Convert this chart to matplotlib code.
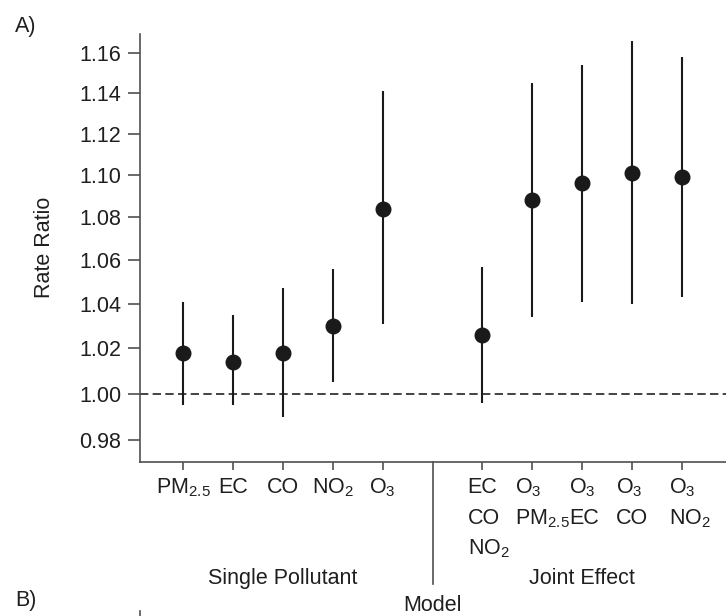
import numpy as np
import matplotlib
matplotlib.use("Agg")
import matplotlib.pyplot as plt
from matplotlib.lines import Line2D
from matplotlib.ticker import NullLocator

plt.rcParams['font.family'] = ['Liberation Sans', 'DejaVu Sans']
plt.rcParams['mathtext.default'] = 'regular'

# rate ratios with 95% CI, single-pollutant models then joint-effect models
single_labels = ['PM$_{2.5}$', 'EC', 'CO', 'NO$_2$', 'O$_3$']
joint_labels = [['EC', 'CO', 'NO$_2$'],
                ['O$_3$', 'PM$_{2.5}$'],
                ['O$_3$', 'EC'],
                ['O$_3$', 'CO'],
                ['O$_3$', 'NO$_2$']]
rr = [1.018, 1.014, 1.018, 1.030, 1.084, 1.026, 1.088, 1.096, 1.101, 1.099]
lower = [0.995, 0.995, 0.990, 1.005, 1.031, 0.996, 1.034, 1.041, 1.040, 1.043]
upper = [1.041, 1.035, 1.047, 1.056, 1.141, 1.057, 1.145, 1.154, 1.166, 1.158]
yticks = [0.98, 1.00, 1.02, 1.04, 1.06, 1.08, 1.10, 1.12, 1.14, 1.16]

W, H = 726, 616
FS = 15.5
TXT = '#1f1f1f'
AX_C = '#505050'

# axes box in pixels (left, top, right, bottom)
L, T, R, B = 140, 34, 726, 462

fig = plt.figure(figsize=(W / 100, H / 100), dpi=100)
ax = fig.add_axes([L / W, 1 - B / H, (R - L) / W, (B - T) / H])

xs = list(range(1, 6)) + list(range(7, 12))
rr_a = np.array(rr)
yerr = [rr_a - np.array(lower), np.array(upper) - rr_a]
ax.errorbar(xs, rr, yerr=yerr, fmt='o', color='#1a1a1a', ms=10.5,
            elinewidth=1.5, capsize=0, zorder=3)
ax.axhline(1.0, color='#222222', lw=1.2, ls=(0, (5, 2.6)), zorder=2)

ax.set_yscale('log')
ax.set_ylim(0.9707, 1.1698)
ax.set_xlim(0.14, 11.88)
ax.set_yticks(yticks)
ax.set_yticklabels(['%.2f' % t for t in yticks], fontsize=FS, color=TXT)
ax.yaxis.set_minor_locator(NullLocator())
ax.set_xticks(xs)
ax.set_xticklabels([])

for s in ['top', 'right']:
    ax.spines[s].set_visible(False)
for s in ['left', 'bottom']:
    ax.spines[s].set_color(AX_C)
    ax.spines[s].set_linewidth(1.2)
ax.tick_params(axis='y', length=8.5, width=1.2, color=AX_C, pad=5)
ax.tick_params(axis='x', length=5.5, width=1.2, color=AX_C)

xt = ax.get_xaxis_transform()


def below(px):
    # pixel row in the figure -> axes y coordinate
    return -(px - B) / (B - T)


row_base = [493, 524, 554]
# small horizontal shifts (px) so stacked joint labels don't run together
joint_shift = [0, -4, 0, -3, 0]

# model separator below the axis
ax.plot([6, 6], [0, below(584)], transform=xt, color=AX_C, lw=1.2,
        clip_on=False)

for x, lab in zip(xs[:5], single_labels):
    ax.text(x, below(row_base[0]), lab, transform=xt, ha='center',
            va='baseline', fontsize=FS, color=TXT)

firsts = []
for x, lab, dx in zip(xs[5:], joint_labels, joint_shift):
    t = ax.text(x + dx / ((R - L) / 11.74), below(row_base[0]), lab[0],
                transform=xt, ha='center', va='baseline', fontsize=FS,
                color=TXT)
    firsts.append(t)

fig.canvas.draw()
rend = fig.canvas.get_renderer()
for t, lab in zip(firsts, joint_labels):
    x0 = t.get_window_extent(rend).x0 / W
    for k, line in enumerate(lab[1:], start=1):
        fig.text(x0, 1 - row_base[k] / H, line, ha='left', va='baseline',
                 fontsize=FS, color=TXT)

ax.text(3, below(584), 'Single Pollutant', transform=xt, ha='center',
        va='baseline', fontsize=FS, color=TXT)
ax.text(9, below(584), 'Joint Effect', transform=xt, ha='center',
        va='baseline', fontsize=FS, color=TXT)
ax.text(6, below(611), 'Model', transform=xt, ha='center',
        va='baseline', fontsize=FS, color=TXT)

fig.text(45 / W, 1 - 247.5 / H, 'Rate Ratio', rotation=90, ha='center',
         va='center', fontsize=FS, color=TXT)
fig.text(15 / W, 1 - 32 / H, 'A)', ha='left', va='baseline', fontsize=FS,
         color=TXT)
fig.text(15 / W, 1 - 606 / H, 'B)', ha='left', va='baseline', fontsize=FS,
         color=TXT)
# top of the next panel's axis
fig.add_artist(Line2D([L / W, L / W], [0, 1 - 611 / H], color=AX_C, lw=1.2))

fig.savefig('out.png', dpi=100)
